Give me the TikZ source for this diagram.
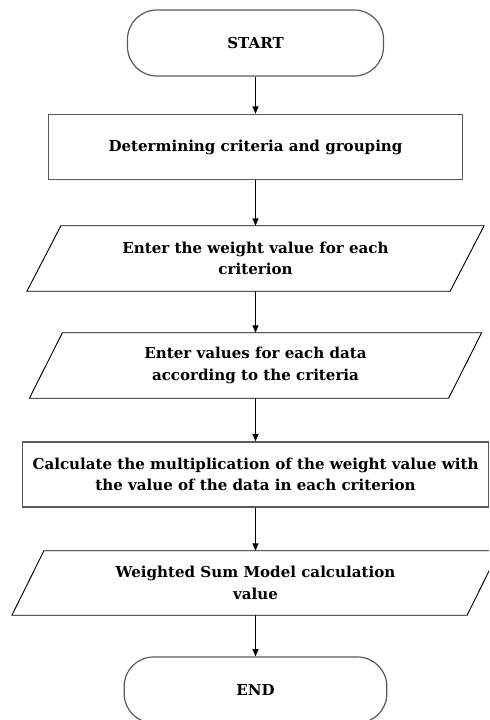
\documentclass[tikz,border=0pt]{standalone}
\usepackage{fontspec}
\setmainfont{DejaVu Serif}
\usetikzlibrary{arrows.meta,calc}
\definecolor{edgegray}{HTML}{5A5A5A}
\begin{document}
\begin{tikzpicture}[x=0.75pt,y=-0.75pt,
  every node/.style={font=\bfseries\fontsize{11.3pt}{16pt}\selectfont, align=center},
  terminal/.style={draw=edgegray, line width=0.9pt, rounded corners=22pt, minimum width=192pt, minimum height=49.5pt, inner sep=0pt},
  procbox/.style={draw=edgegray, line width=1.1pt, minimum height=48.75pt, inner sep=0pt},
  iobox/.style={minimum height=48.75pt, inner sep=0pt},
  paraline/.style={draw=black, line width=0.7pt},
  flow/.style={-{Triangle[width=4.5pt,length=5.5pt]}, line width=0.8pt, black}
]
\useasboundingbox (0,0) rectangle (489,720);
\clip (0,0) rectangle (489,720);
\fill[white] (0,0) rectangle (489,720);

\node[terminal] (start) at (255.5,43) {START};
\node[procbox, minimum width=310.5pt] (det) at (255.5,147) {Determining criteria and grouping};
\node[iobox, minimum width=317pt] (wgt) at (255.5,258.5) {Enter the weight value for each\\criterion};
\node[iobox, minimum width=314pt] (val) at (255.5,365.5) {Enter values for each data\\according to the criteria};
\node[procbox, minimum width=349.5pt] (calc) at (255.5,474.5) {Calculate the multiplication of the weight value with\\the value of the data in each criterion};
\node[iobox, minimum width=341pt, minimum height=48pt] (wsm) at (255.5,583) {Weighted Sum Model calculation\\value};
\node[terminal, minimum width=197pt] (end) at (255.5,690) {END};

\draw[paraline] ($(wgt.north west)+(17,0)$) -- ($(wgt.north east)+(17,0)$) -- ($(wgt.south east)+(-17,0)$) -- ($(wgt.south west)+(-17,0)$) -- cycle;
\draw[paraline] ($(val.north west)+(16.5,0)$) -- ($(val.north east)+(16.5,0)$) -- ($(val.south east)+(-16.5,0)$) -- ($(val.south west)+(-16.5,0)$) -- cycle;
\draw[paraline] ($(wsm.north west)+(16,0)$) -- ($(wsm.north east)+(16,0)$) -- ($(wsm.south east)+(-16,0)$) -- ($(wsm.south west)+(-16,0)$) -- cycle;

\draw[flow] (start) -- (det);
\draw[flow] (det) -- (wgt);
\draw[flow] (wgt) -- (val);
\draw[flow] (val) -- (calc);
\draw[flow] (calc) -- (wsm);
\draw[flow] (wsm) -- (end);
\end{tikzpicture}
\end{document}
